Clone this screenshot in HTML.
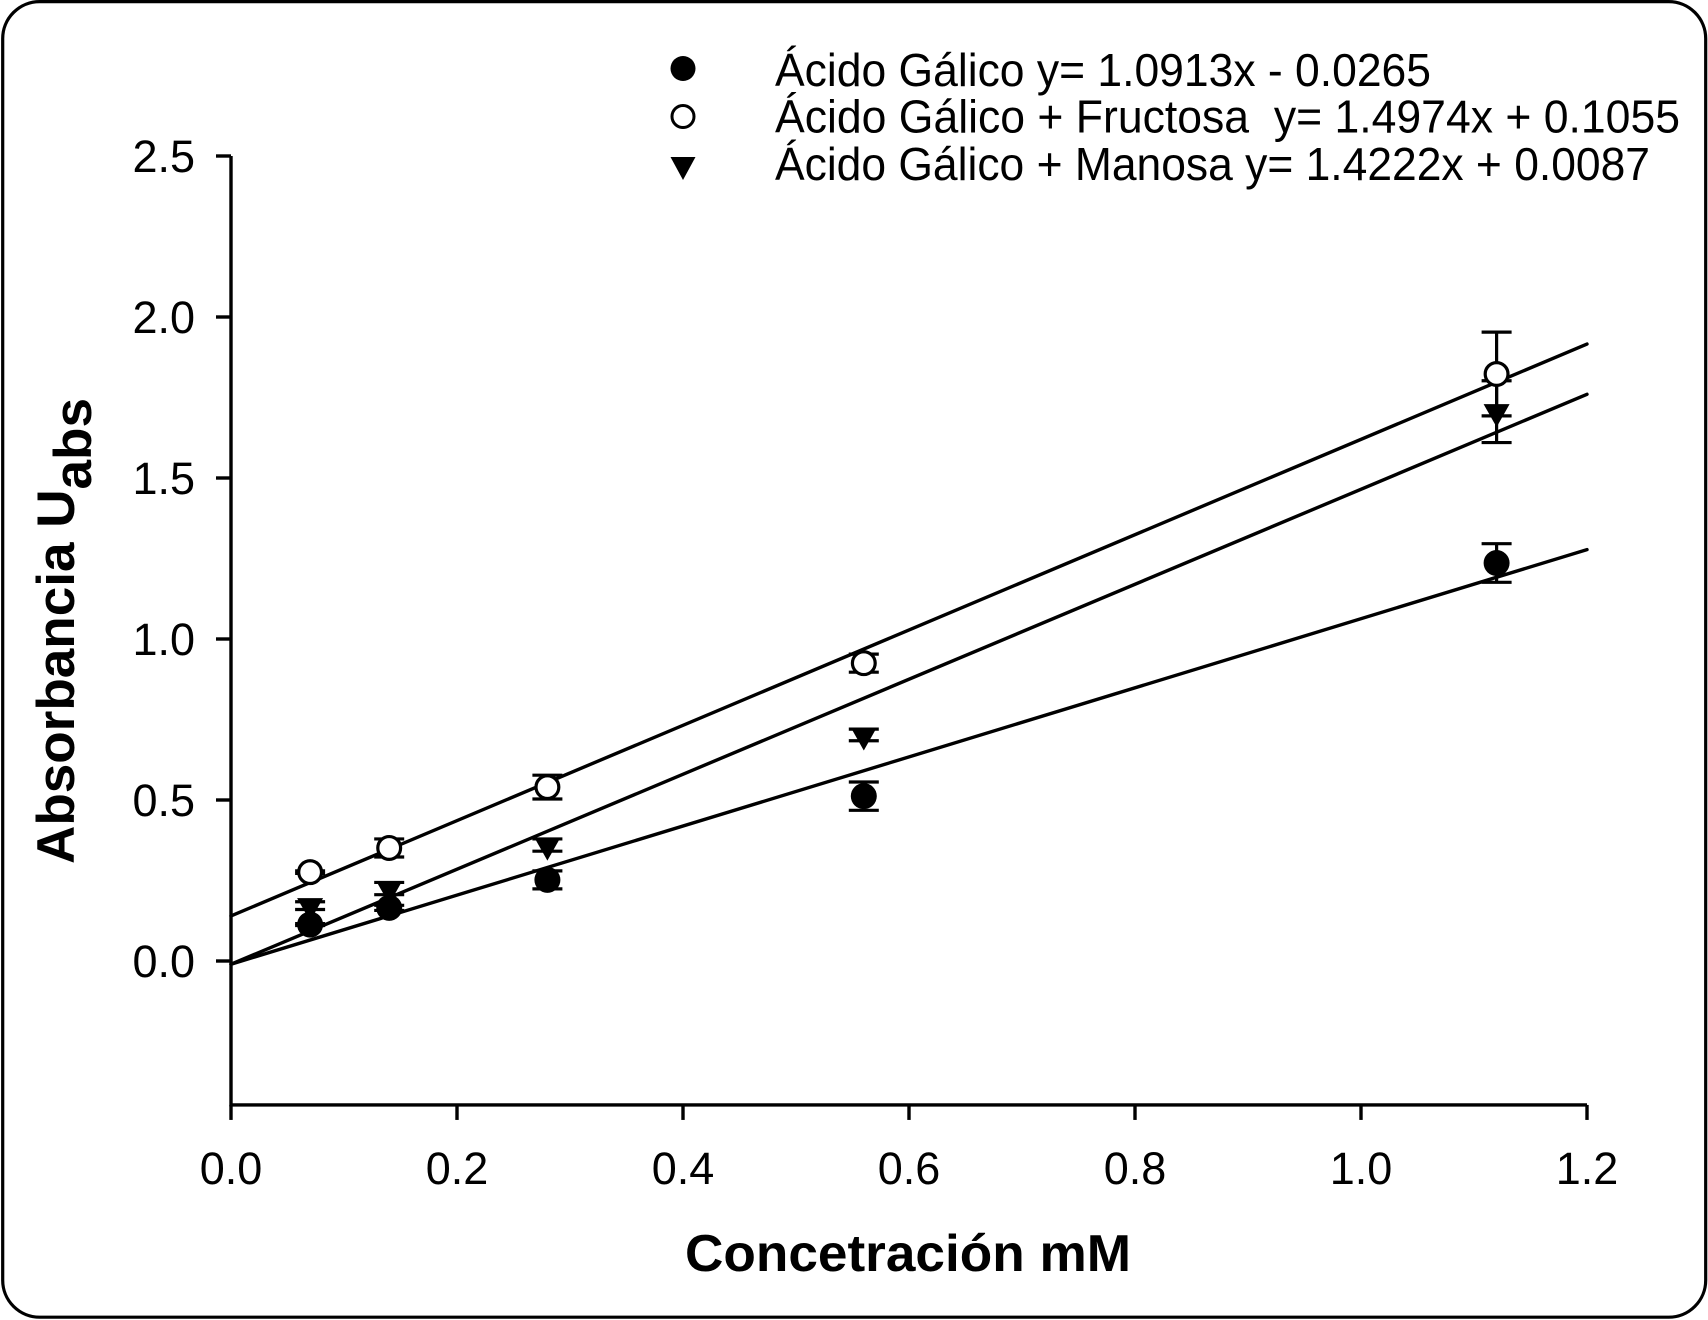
<!DOCTYPE html>
<html lang="es">
<head>
<meta charset="utf-8">
<title>Absorbancia vs Concentración</title>
<style>
  html, body { margin: 0; padding: 0; background: #fff; }
  svg { display: block; }
  text { font-family: "Liberation Sans", Arial, sans-serif; fill: #000; }
</style>
</head>
<body>
<svg id="chart" xmlns="http://www.w3.org/2000/svg" width="1708" height="1320" viewBox="0 0 1708 1320">
  <rect x="2.7" y="1.6" width="1703" height="1315.6" rx="37" ry="37" fill="#fff" stroke="#000" stroke-width="3.2"/>

  <g id="plot"></g>

  <g>
    <g>
      <circle cx="683" cy="68.5" r="12.5" fill="#000"/>
      <text x="775" y="86" font-size="46" textLength="656" lengthAdjust="spacingAndGlyphs">Ácido Gálico y= 1.0913x - 0.0265</text>
    </g>
    <g>
      <circle cx="683" cy="116.5" r="11" fill="#fff" stroke="#000" stroke-width="3"/>
      <text x="775" y="132.5" font-size="46" textLength="905" lengthAdjust="spacingAndGlyphs" xml:space="preserve">Ácido Gálico + Fructosa  y= 1.4974x + 0.1055</text>
    </g>
    <g>
      <polygon points="670.5,157 695.5,157 683,180" fill="#000"/>
      <text x="775" y="180" font-size="46" textLength="875" lengthAdjust="spacingAndGlyphs">Ácido Gálico + Manosa y= 1.4222x + 0.0087</text>
    </g>
  </g>

  <text x="685" y="1271" font-size="51.5" font-weight="bold" textLength="446" lengthAdjust="spacingAndGlyphs">Concetración mM</text>

  <text transform="translate(74,864) rotate(-90)" font-size="53" font-weight="bold" textLength="466" lengthAdjust="spacingAndGlyphs">Absorbancia U<tspan dy="17">abs</tspan></text>
</svg>

<script>
// Axis ticks and labels
const xTicks = [0, 0.2, 0.4, 0.6, 0.8, 1.0, 1.2];
const xTickLabels = ["0.0", "0.2", "0.4", "0.6", "0.8", "1.0", "1.2"];
const yTicks = [0, 0.5, 1.0, 1.5, 2.0, 2.5];
const yTickLabels = ["0.0", "0.5", "1.0", "1.5", "2.0", "2.5"];
const xDomain = [0, 1.2];
const yDomain = [-0.447, 2.5];

// Concentration (mM)
const concentrations = [0.07, 0.14, 0.28, 0.56, 1.12];

// Acido Galico (filled circles)
const galicoValues = [0.113, 0.165, 0.252, 0.512, 1.236];
const galicoErrors = [0.003, 0.008, 0.028, 0.044, 0.060];
const galicoFit = [1.073, -0.010];

// Acido Galico + Fructosa (open circles)
const fructosaValues = [0.276, 0.351, 0.540, 0.925, 1.823];
const fructosaErrors = [0.004, 0.028, 0.037, 0.028, 0.130];
const fructosaFit = [1.480, 0.140];

// Acido Galico + Manosa (triangles)
const manosaValues = [0.172, 0.225, 0.360, 0.702, 1.706];
const manosaErrors = [0.012, 0.019, 0.019, 0.018, 0.096];
const manosaFit = [1.475, -0.010];

const NS = "http://www.w3.org/2000/svg";
const plot = document.getElementById("plot");

function xScale(v) {
  return 231 + (v - xDomain[0]) * (1356 / (xDomain[1] - xDomain[0]));
}
function yScale(v) {
  return 961 - v * 322;
}
function make(tag, attrs, parent) {
  const el = document.createElementNS(NS, tag);
  for (const k in attrs) el.setAttribute(k, attrs[k]);
  parent.appendChild(el);
  return el;
}

// Axes
const xAxisLine = make("line", { x1: xScale(xDomain[0]), x2: xScale(xDomain[1]), y1: yScale(yDomain[0]), y2: yScale(yDomain[0]), stroke: "#000", "stroke-width": 3.4 }, plot);


const yAxisLine = make("line", { x1: xScale(0), x2: xScale(0), y1: yScale(yDomain[0]) + 1.5, y2: yScale(yDomain[1]), stroke: "#000", "stroke-width": 3.4 }, plot);



xTicks.forEach(function (t, i) {
  const tick = make("line", { x1: xScale(t), x2: xScale(t), y1: yScale(yDomain[0]), y2: yScale(yDomain[0]) + 15, stroke: "#000", "stroke-width": 3.4 }, plot);
  
  
  const label = make("text", { x: xScale(t), y: 1184, "font-size": 45, "text-anchor": "middle" }, plot);
  
  
  label.textContent = xTickLabels[i];
});

yTicks.forEach(function (t, i) {
  const tick = make("line", { x1: xScale(0) - 15, x2: xScale(0), y1: yScale(t), y2: yScale(t), stroke: "#000", "stroke-width": 3.4 }, plot);
  
  
  const label = make("text", { x: 195, y: yScale(t) + 16, "font-size": 45, "text-anchor": "end" }, plot);
  
  
  label.textContent = yTickLabels[i];
});

// Regression lines
function drawFit(fit, name) {
  const line = make("line", {
    x1: xScale(xDomain[0]), y1: yScale(fit[0] * xDomain[0] + fit[1]),
    x2: xScale(xDomain[1]), y2: yScale(fit[0] * xDomain[1] + fit[1]),
    stroke: "#000", "stroke-width": 3.4, "stroke-linecap": "round"
  }, plot);
  
  
}
drawFit(galicoFit, 'fit-line-acido-galico');
drawFit(fructosaFit, 'fit-line-fructosa');
drawFit(manosaFit, 'fit-line-manosa');

// Error bars
function drawErrors(values, errors, name) {
  concentrations.forEach(function (c, i) {
    const x = xScale(c);
    const top = yScale(values[i] + errors[i]);
    const bot = yScale(values[i] - errors[i]);
    const g = make("g", { stroke: "#000", "stroke-width": 3.2 }, plot);
    
    
    make("line", { x1: x, x2: x, y1: top, y2: bot }, g);
    make("line", { x1: x - 15, x2: x + 15, y1: top, y2: top }, g);
    make("line", { x1: x - 15, x2: x + 15, y1: bot, y2: bot }, g);
  });
}
drawErrors(galicoValues, galicoErrors, 'error-bar-acido-galico');
drawErrors(fructosaValues, fructosaErrors, 'error-bar-fructosa');
drawErrors(manosaValues, manosaErrors, 'error-bar-manosa');

// Markers
concentrations.forEach(function (c, i) {
  const cx = xScale(c);
  const tri = make("polygon", {
    points: (cx - 13) + "," + (yScale(manosaValues[i]) - 7.5) + " " + (cx + 13) + "," + (yScale(manosaValues[i]) - 7.5) + " " + cx + "," + (yScale(manosaValues[i]) + 15.5),
    fill: "#000"
  }, plot);
  
  

  const dot = make("circle", { cx: cx, cy: yScale(galicoValues[i]), r: 13, fill: "#000" }, plot);
  
  

  const ring = make("circle", { cx: cx, cy: yScale(fructosaValues[i]), r: 11.4, fill: "#fff", stroke: "#000", "stroke-width": 3.2 }, plot);
  
  
});
</script>
</body>
</html>
